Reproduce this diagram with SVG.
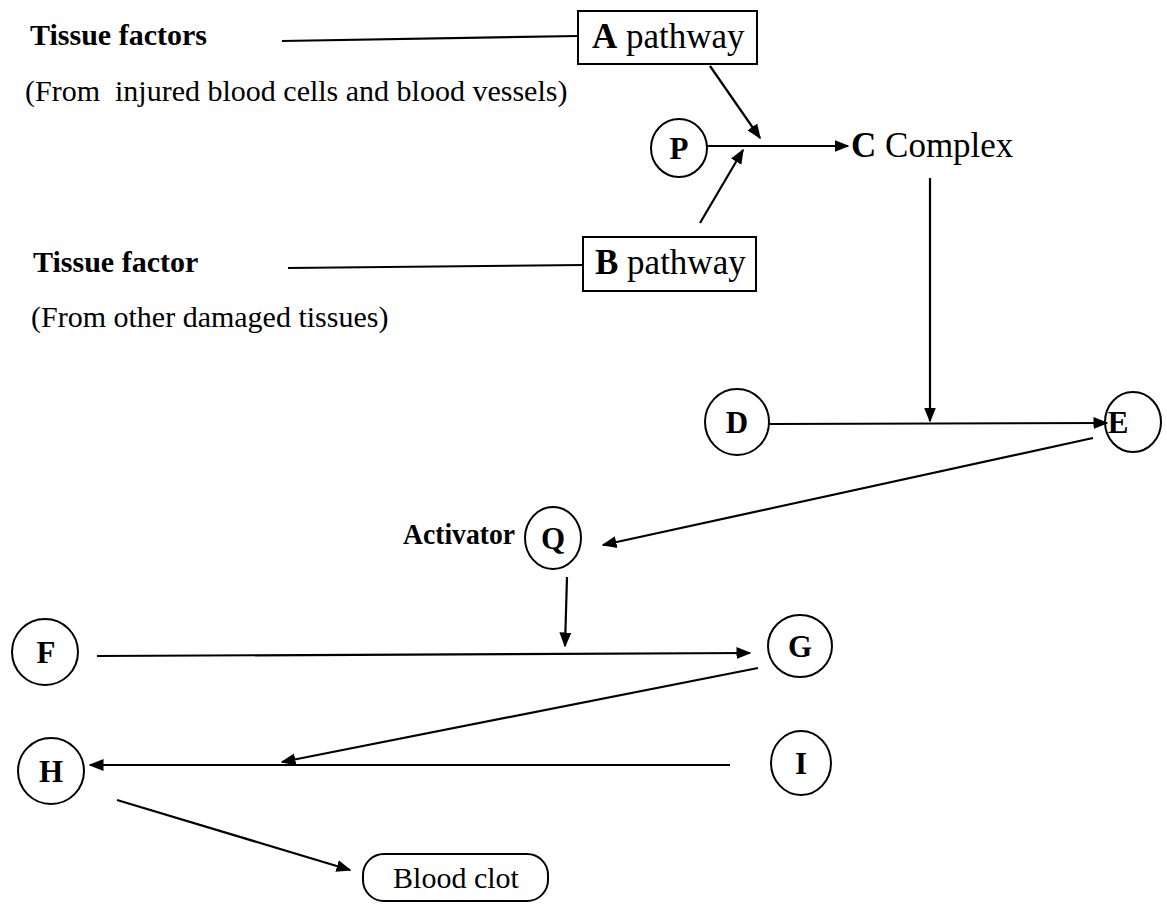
<svg xmlns="http://www.w3.org/2000/svg" width="1167" height="906" viewBox="0 0 1167 906">
<style>
text{font-family:"Liberation Serif","Times New Roman",serif;fill:#000}
.b{font-weight:bold;font-size:30px}
.n{font-size:30px}
.big{font-size:35px}
.lbl{font-weight:bold;font-size:31px}
.ln{stroke:#000;stroke-width:2.2;fill:none}
.nd{stroke:#000;stroke-width:2;fill:#fff}
</style>
<defs>
<marker id="ahs" viewBox="0 0 10 10" refX="9" refY="5" markerWidth="15" markerHeight="15" orient="auto" markerUnits="userSpaceOnUse">
<path d="M0,1 L10,5 L0,9 z" fill="#000"/>
</marker>
</defs>
<rect width="1167" height="906" fill="#fff"/>

<g id="connectors">
<line class="ln" x1="282" y1="41" x2="578" y2="36"/>
<line class="ln" x1="288" y1="268" x2="583" y2="265"/>
<line class="ln" x1="710" y1="66" x2="760" y2="138" marker-end="url(#ahs)"/>
<line class="ln" x1="700" y1="223" x2="743" y2="150" marker-end="url(#ahs)"/>
<line class="ln" x1="707" y1="146" x2="848" y2="146" marker-end="url(#ahs)"/>
<line class="ln" x1="930" y1="178" x2="930" y2="421" marker-end="url(#ahs)"/>
<line class="ln" x1="770" y1="424" x2="1107" y2="423" marker-end="url(#ahs)"/>
<line class="ln" x1="1093" y1="438" x2="603" y2="545" marker-end="url(#ahs)"/>
<line class="ln" x1="567" y1="577" x2="565" y2="646" marker-end="url(#ahs)"/>
<line class="ln" x1="97" y1="656" x2="750" y2="653" marker-end="url(#ahs)"/>
<line class="ln" x1="758" y1="668" x2="282" y2="762" marker-end="url(#ahs)"/>
<line class="ln" x1="730" y1="765" x2="90" y2="765" marker-end="url(#ahs)"/>
<line class="ln" x1="117" y1="800" x2="350" y2="870" marker-end="url(#ahs)"/>
</g>

<g id="tissue-factors"><text class="b" x="30" y="45">Tissue factors</text></g>
<g id="note-a"><text class="n" x="25" y="101" xml:space="preserve">(From  injured blood cells and blood vessels)</text></g>
<g id="tissue-factor"><text class="b" x="33" y="272">Tissue factor</text></g>
<g id="note-b"><text class="n" x="31" y="327">(From other damaged tissues)</text></g>

<g id="node-A">
<rect class="nd" x="578" y="11" width="179" height="53"/>
<text class="big" x="592" y="48"><tspan font-weight="bold">A</tspan> pathway</text>
</g>
<g id="node-B">
<rect class="nd" x="583" y="237" width="173" height="54"/>
<text class="big" x="595" y="274"><tspan font-weight="bold">B</tspan> pathway</text>
</g>
<g id="node-P">
<ellipse class="nd" cx="679" cy="148" rx="28" ry="29"/>
<text class="lbl" x="679" y="159" text-anchor="middle">P</text>
</g>
<g id="node-C">
<text class="big" x="851" y="157"><tspan font-weight="bold">C</tspan> Complex</text>
</g>
<g id="node-D">
<ellipse class="nd" cx="737" cy="422" rx="32" ry="33"/>
<text class="lbl" x="737" y="433" text-anchor="middle">D</text>
</g>
<g id="node-E">
<ellipse class="nd" cx="1133" cy="422" rx="28" ry="30" style="fill:none"/>
<text class="lbl" x="1118" y="433" text-anchor="middle">E</text>
</g>
<g id="node-Q">
<text class="b" x="403" y="544" textLength="112" lengthAdjust="spacingAndGlyphs">Activator</text>
<ellipse class="nd" cx="553" cy="538" rx="28" ry="31"/>
<text class="lbl" x="553" y="549" text-anchor="middle">Q</text>
</g>
<g id="node-F">
<ellipse class="nd" cx="45" cy="652" rx="33" ry="33"/>
<text class="lbl" x="46" y="663" text-anchor="middle">F</text>
</g>
<g id="node-G">
<ellipse class="nd" cx="800" cy="646" rx="32" ry="31"/>
<text class="lbl" x="800" y="657" text-anchor="middle">G</text>
</g>
<g id="node-H">
<ellipse class="nd" cx="51" cy="771" rx="33" ry="33"/>
<text class="lbl" x="51" y="782" text-anchor="middle">H</text>
</g>
<g id="node-I">
<ellipse class="nd" cx="801" cy="763" rx="30" ry="32"/>
<text class="lbl" x="801" y="774" text-anchor="middle">I</text>
</g>
<g id="node-clot">
<rect class="nd" x="363" y="854" width="185" height="47" rx="21"/>
<text x="456" y="888" text-anchor="middle" style="font-size:30px">Blood clot</text>
</g>
</svg>
